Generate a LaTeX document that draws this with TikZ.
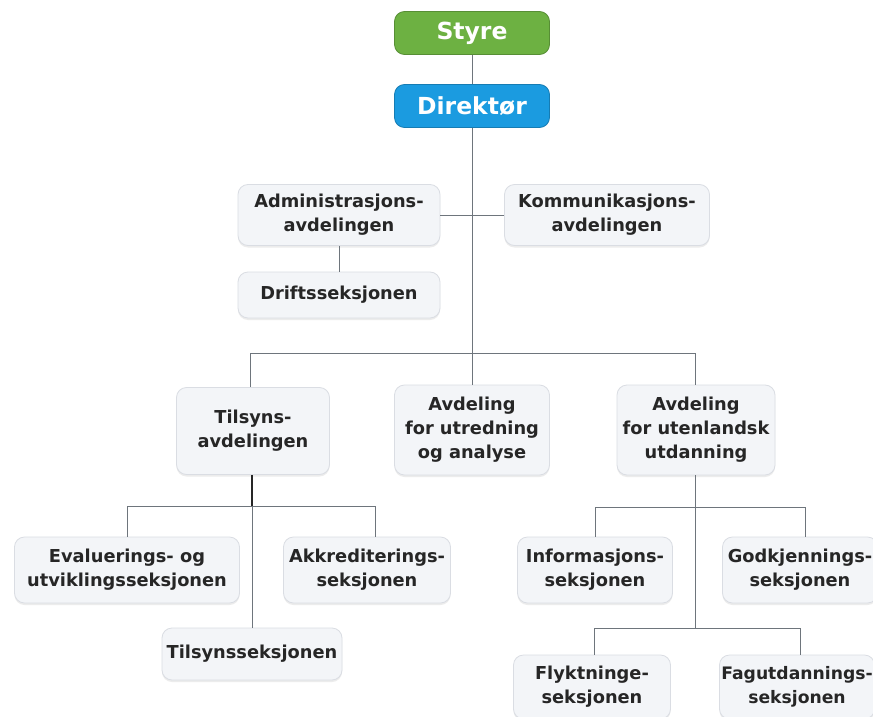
\documentclass[tikz,border=0pt]{standalone}
\usepackage{fontspec}
\setmainfont{DejaVu Sans}
\usetikzlibrary{shadows}
\definecolor{styreg}{HTML}{6DB142}
\definecolor{direkb}{HTML}{1B9BE0}
\definecolor{boxfill}{HTML}{F3F5F8}
\definecolor{boxline}{HTML}{DADDE3}
\definecolor{conn}{HTML}{6E757C}
\definecolor{txt}{HTML}{262626}
\begin{document}
\begin{tikzpicture}[x=1pt,y=-1pt,
  top/.style={rounded corners=10pt, draw=#1!80!black, fill=#1, text=white,
    font=\bfseries\fontsize{23.5}{26}\selectfont, minimum width=155pt, minimum height=43pt, line width=0.8pt},
  unit/.style={rounded corners=10pt, draw=boxline, fill=boxfill, text=txt,
    font=\bfseries\fontsize{17.8}{24}\selectfont, align=center, inner sep=1pt, line width=0.8pt,
    drop shadow={shadow xshift=0pt, shadow yshift=-2pt, opacity=0.15}},
  smallunit/.style={unit, font=\bfseries\fontsize{17.2}{24}\selectfont},
  conn/.style={draw=conn, line width=0.9pt}]
\useasboundingbox (0,0) rectangle (873,717);
\fill[white] (0,0) rectangle (873,717);

\node[top=styreg] (styre) at (472,33) {Styre};
\node[top=direkb] (dir) at (472,106) {Direktør};

\node[unit, minimum width=202pt, minimum height=61pt] (adm) at (339,215) {Administrasjons-\\avdelingen};
\node[unit, minimum width=205pt, minimum height=61pt] (kom) at (607,215) {Kommunikasjons-\\avdelingen};
\node[unit, minimum width=202pt, minimum height=46pt] (drift) at (339,295) {Driftsseksjonen};

\node[unit, minimum width=153pt, minimum height=87pt] (tils) at (253,431) {Tilsyns-\\avdelingen};
\node[unit, minimum width=155pt, minimum height=90pt] (utr) at (472,430) {Avdeling\\for utredning\\og analyse};
\node[unit, minimum width=158pt, minimum height=90pt] (utl) at (696,430) {Avdeling\\for utenlandsk\\utdanning};

\node[unit, minimum width=225pt, minimum height=66pt] (eval) at (127,570) {Evaluerings- og\\utviklingsseksjonen};
\node[unit, minimum width=167pt, minimum height=66pt] (akk) at (367,570) {Akkrediterings-\\seksjonen};
\node[unit, minimum width=180pt, minimum height=52pt] (tsek) at (252,654) {Tilsynsseksjonen};

\node[unit, minimum width=155pt, minimum height=66pt] (info) at (595,570) {Informasjons-\\seksjonen};
\node[unit, minimum width=155pt, minimum height=66pt] (godk) at (800,570) {Godkjennings-\\seksjonen};
\node[unit, minimum width=157pt, minimum height=64pt] (flykt) at (592,687) {Flyktninge-\\seksjonen};
\node[smallunit, minimum width=155pt, minimum height=64pt] (fag) at (797,687) {Fagutdannings-\\seksjonen};

% connectors
\coordinate (j1) at (472,215);
\coordinate (j2) at (472,353);
\coordinate (j3) at (252,506);
\coordinate (j4) at (695,507);
\coordinate (j5) at (695,628);

\draw[conn] (styre) -- (dir);
\draw[conn] (dir) -- (j2);
\draw[conn] (adm) -- (kom);
\draw[conn] (adm) -- (drift);
\draw[conn] (j2) -| (tils.north -| 250,0);
\draw[conn] (j2) -| (utl.north -| 695,0);
\draw[conn] (j2) -- (utr);
\draw[conn, line width=1.5pt, draw=txt] (tils.south -| j3) -- (j3);
\draw[conn] (j3) -- (tsek.north -| j3);
\draw[conn] (j3) -| (eval.north);
\draw[conn] (j3) -| (akk.north -| 375,0);
\draw[conn] (utl.south -| j4) -- (j5);
\draw[conn] (j4) -| (info.north);
\draw[conn] (j4) -| (godk.north -| 805,0);
\draw[conn] (j5) -| (flykt.north -| 594,0);
\draw[conn] (j5) -| (fag.north -| 800,0);
\end{tikzpicture}
\end{document}
